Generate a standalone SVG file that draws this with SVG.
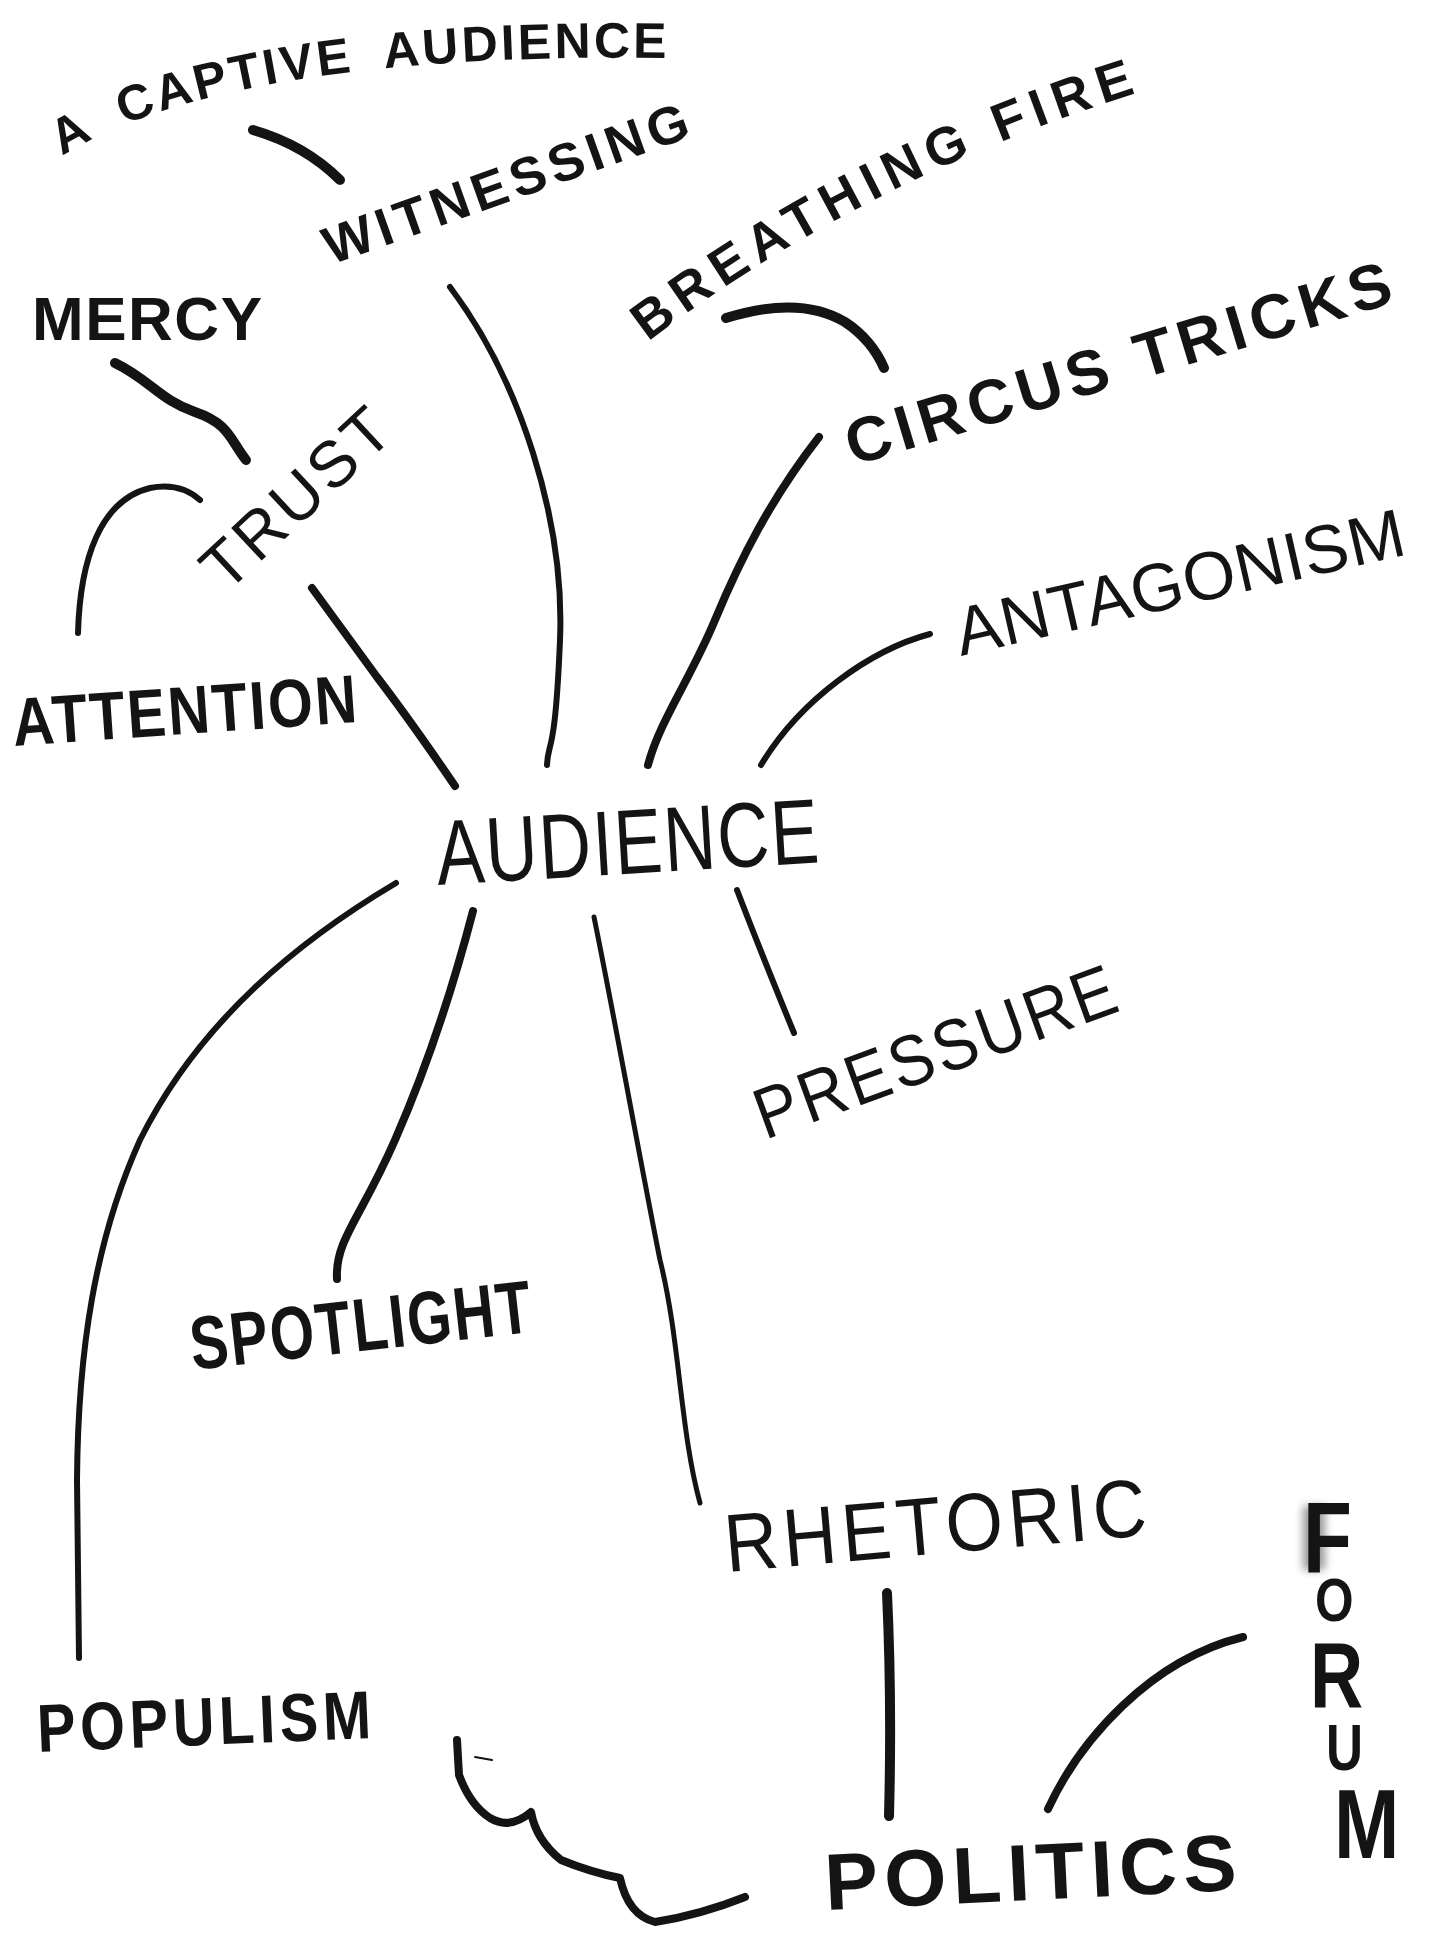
<svg xmlns="http://www.w3.org/2000/svg" width="1431" height="1939" viewBox="0 0 1431 1939">
<style>
.bg{fill:#ffffff}
.t{font-family:"Liberation Sans",Arial,sans-serif;fill:#141414}
.b{font-weight:bold}
.n{font-weight:normal}
.c{fill:none;stroke:#141414;stroke-linecap:round;stroke-linejoin:round}
.w10{stroke-width:10}
.w8{stroke-width:8}
.w6{stroke-width:6}
.w5{stroke-width:5}
</style>
<defs>
<path id="pCaptive" d="M62,156 Q230,52 670,58 L780,58"/>
<path id="pBreath" d="M648,342 Q860,180 1140,92 L1240,64"/>
<filter id="smudge" x="-50%" y="-50%" width="200%" height="200%"><feGaussianBlur stdDeviation="4"/></filter>
</defs>
<rect class="bg" x="0" y="0" width="1431" height="1939"/>
<g id="connectors">
<path class="c w10" d="M253,130 Q305,145 340,180"/>
<path class="c w6" d="M450,287 C520,380 565,520 560,640 S548,740 547,765"/>
<path class="c w10" d="M726,318 Q800,295 845,322 Q872,340 884,368"/>
<path class="c w8" d="M819,437 C770,500 740,560 715,620 S660,720 648,765"/>
<path class="c w10" d="M115,363 C150,380 160,400 195,412 S230,440 246,460"/>
<path class="c w6" d="M78,633 C80,560 100,500 150,488 Q180,482 200,500"/>
<path class="c w8" d="M312,588 L377,677 Q410,720 455,786"/>
<path class="c w6" d="M930,634 C870,650 800,700 761,765"/>
<path class="c w6" d="M396,883 C300,940 200,1020 140,1140 C95,1240 78,1350 77,1480 L79,1658"/>
<path class="c w8" d="M473,911 C455,980 430,1060 395,1140 S335,1240 337,1279"/>
<path class="c w5" d="M594,917 C615,1020 640,1160 660,1260 C680,1340 680,1430 700,1503"/>
<path class="c w6" d="M737,890 Q760,950 794,1033"/>
<path class="c w10" d="M887,1593 Q892,1700 889,1816"/>
<path class="c w8" d="M1048,1809 C1080,1740 1150,1660 1243,1637"/>
<path class="c w8" d="M457,1740 L459,1775 Q470,1805 490,1818 Q510,1830 531,1812 Q536,1840 561,1860 Q590,1872 620,1878 Q628,1915 655,1922 Q700,1915 745,1897"/>
<path class="c" stroke-width="2" d="M475,1757 L492,1760"/>
</g>
<g id="node-captive"><text class="t b" font-size="50" letter-spacing="3" word-spacing="15"><textPath href="#pCaptive">A CAPTIVE AUDIENCE</textPath></text></g>
<g id="node-witnessing"><text class="t b" font-size="53" transform="translate(331,265) rotate(-19.6)" textLength="384" lengthAdjust="spacing">WITNESSING</text></g>
<g id="node-mercy"><text class="t b" font-size="62" x="32" y="340" textLength="230" lengthAdjust="spacing">MERCY</text></g>
<g id="node-breathing"><text class="t b" font-size="53" letter-spacing="8"><textPath href="#pBreath">BREATHING FIRE</textPath></text></g>
<g id="node-circus"><text class="t b" font-size="63" transform="translate(853,466) rotate(-16.8)" textLength="567" lengthAdjust="spacing">CIRCUS TRICKS</text></g>
<g id="node-trust"><text class="t n" font-size="65" transform="translate(226,594) rotate(-43)" textLength="232" lengthAdjust="spacing">TRUST</text></g>
<g id="node-antagonism"><text class="t n" font-size="68" transform="translate(961,656) rotate(-12.8)" textLength="459" lengthAdjust="spacing">ANTAGONISM</text></g>
<g id="node-attention"><text class="t b" font-size="68" transform="translate(14,746) rotate(-4) scale(0.85,1)" textLength="406" lengthAdjust="spacing">ATTENTION</text></g>
<g id="node-audience"><text class="t n" font-size="92" transform="translate(438,885) rotate(-3.4) scale(0.78,1)" textLength="491" lengthAdjust="spacing">AUDIENCE</text></g>
<g id="node-pressure"><text class="t n" font-size="72" transform="translate(765,1140) rotate(-20) scale(0.9,1)" textLength="422" lengthAdjust="spacing">PRESSURE</text></g>
<g id="node-spotlight"><text class="t b" font-size="75" transform="translate(193,1370) rotate(-6.4) scale(0.76,1)" textLength="451" lengthAdjust="spacing">SPOTLIGHT</text></g>
<g id="node-rhetoric"><text class="t n" font-size="82" transform="translate(727,1572) rotate(-5) scale(0.9,1)" textLength="470" lengthAdjust="spacing">RHETORIC</text></g>
<g id="node-populism"><text class="t b" font-size="68" transform="translate(38,1752) rotate(-2.4) scale(0.85,1)" textLength="393" lengthAdjust="spacing">POPULISM</text></g>
<g id="node-politics"><text class="t b" font-size="80" transform="translate(826,1910) rotate(-2.8)" textLength="412" lengthAdjust="spacing">POLITICS</text></g>
<g id="node-forum">
<rect x="1303" y="1506" width="22" height="64" fill="#444" opacity="0.55" filter="url(#smudge)"/>
<text class="t b" transform="translate(1303,1572) rotate(90) scale(1,0.8)" dx="0 -12.1 37.8 -3.4 41.8" dy="0 -15 6.25 -20 -10" rotate="-90"><tspan font-size="100">F</tspan><tspan font-size="62">O</tspan><tspan font-size="92">R</tspan><tspan font-size="64">U</tspan><tspan font-size="98">M</tspan></text>
</g>
</svg>
